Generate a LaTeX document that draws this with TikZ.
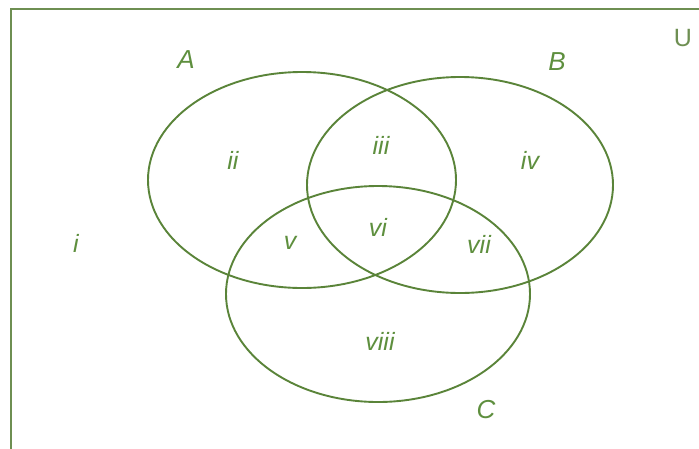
\documentclass[tikz,border=0pt]{standalone}
\usepackage{fontspec}
\setmainfont{Liberation Sans}
\definecolor{vline}{HTML}{5A8439}
\definecolor{vtext}{HTML}{5E8F3E}
\definecolor{vframe}{HTML}{6E8F52}
\begin{document}
\begin{tikzpicture}[x=1pt,y=-1pt,
  setcurve/.style={draw=vline,line width=1.9pt},
  reglabel/.style={text=vtext,font=\fontsize{25}{25}\selectfont\itshape,inner sep=0pt},
  setlabel/.style={text=vtext,font=\fontsize{26}{26}\selectfont\itshape,inner sep=0pt}]
\useasboundingbox (0,0) rectangle (699,448);
\fill[white] (0,0) rectangle (699,448);
\draw[vframe,line width=2pt] (11,460) -- (11,9) -- (710,9);
% sets
\draw[setcurve] (302,180) ellipse [x radius=154, y radius=108];
\draw[setcurve] (460,185) ellipse [x radius=153, y radius=108];
\draw[setcurve] (378,294) ellipse [x radius=152, y radius=108];
% set labels
\node[setlabel] (lA) at (186,60) {A};
\node[setlabel] (lB) at (557,62) {B};
\node[setlabel] (lC) at (486,410) {C};
\node[text=vframe,font=\fontsize{25}{25}\selectfont,inner sep=0pt] (lU) at (683,38) {U};
% regions
\node[reglabel] (r1) at (76,243) {i};
\node[reglabel] (r2) at (233,160) {ii};
\node[reglabel] (r3) at (381,145) {iii};
\node[reglabel] (r4) at (530,160) {iv};
\node[reglabel] (r5) at (290,243) {v};
\node[reglabel] (r6) at (378,227) {vi};
\node[reglabel] (r7) at (479,244) {vii};
\node[reglabel] (r8) at (380,341) {viii};
\end{tikzpicture}
\end{document}
